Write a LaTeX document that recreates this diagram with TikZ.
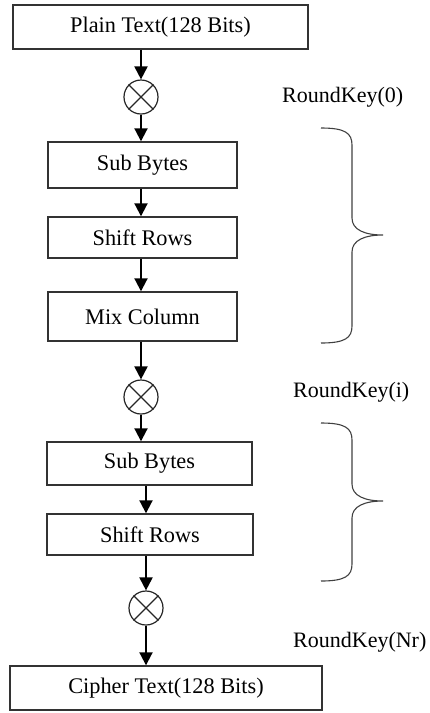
\documentclass[tikz,border=0pt]{standalone}
\usepackage{fontspec}
\setmainfont{Liberation Serif}
\usetikzlibrary{arrows.meta}
\begin{document}
\begin{tikzpicture}[x=1pt,y=-1pt]
% Styles
\tikzstyle{boite}=[draw=black!80,line width=1.4pt,inner sep=0pt,minimum height=44pt,font=\fontsize{22.3}{26}\selectfont]
\tikzstyle{xor}=[draw=black!85,circle,line width=1.2pt,minimum size=34pt,inner sep=0pt]
\tikzstyle{croix}=[black!85,line width=1.2pt]
\tikzstyle{fleche}=[-{Triangle[length=13pt,width=13pt]},line width=2pt]
\tikzstyle{accolade}=[black!75,line width=1.1pt]
\tikzstyle{cle}=[anchor=west,inner sep=0pt,font=\fontsize{22}{26}\selectfont]
% Cadre
\useasboundingbox (0,0) rectangle (429,713);
% Texte clair
\node[boite,minimum width=295pt] (pt) at (160.5,27) {Plain Text(128 Bits)};
\node[xor] (x1) at (141,97) {};
\node[cle] (k0) at (282,97) {RoundKey(0)};
% Tour i
\node[boite,minimum width=189pt,minimum height=46pt] (sb1) at (142.5,165) {Sub Bytes};
\node[boite,minimum width=189pt,minimum height=41pt] (sr1) at (142.5,237.5) {Shift Rows};
\node[boite,minimum width=189pt,minimum height=49pt] (mc) at (142.5,316.5) {Mix Column};
\node[xor] (x2) at (141,397) {};
\node[cle] (ki) at (293,392) {RoundKey(i)};
% Dernier tour
\node[boite,minimum width=205pt,minimum height=43pt] (sb2) at (149.5,463.5) {Sub Bytes};
\node[boite,minimum width=206pt,minimum height=41pt] (sr2) at (150,534.5) {Shift Rows};
\node[xor] (x3) at (146,608) {};
\node[cle] (kn) at (293,642) {RoundKey(Nr)};
% Texte chiffré
\node[boite,minimum width=312pt] (ct) at (166,688) {Cipher Text(128 Bits)};
% Croix des XOR
\foreach \c in {x1,x2,x3}
  \draw[croix] (\c.north west) -- (\c.south east) (\c.north east) -- (\c.south west);
% Flèches
\draw[fleche] (pt.south -| x1) -- (x1.north);
\draw[fleche] (x1.south) -- (x1.south |- sb1.north);
\draw[fleche] (sb1.south -| x1) -- (sr1.north -| x1);
\draw[fleche] (sr1.south -| x1) -- (mc.north -| x1);
\draw[fleche] (mc.south -| x2) -- (x2.north);
\draw[fleche] (x2.south) -- (x2.south |- sb2.north);
\draw[fleche] (sb2.south -| x3) -- (sr2.north -| x3);
\draw[fleche] (sr2.south -| x3) -- (x3.north);
\draw[fleche] (x3.south) -- (x3.south |- ct.north);
% Accolades
\draw[accolade] (321,128) .. controls (345,128) and (352,133) .. (352,145) -- (352,218)
  .. controls (352,230) and (365,235) .. (383,235) .. controls (365,235) and (352,240) .. (352,252)
  -- (352,326) .. controls (352,338) and (345,343) .. (321,343);
\draw[accolade] (321,423) .. controls (345,423) and (352,428) .. (352,440) -- (352,484)
  .. controls (352,496) and (365,501) .. (383,501) .. controls (365,501) and (352,506) .. (352,518)
  -- (352,564) .. controls (352,576) and (345,581) .. (321,581);
\end{tikzpicture}
\end{document}
